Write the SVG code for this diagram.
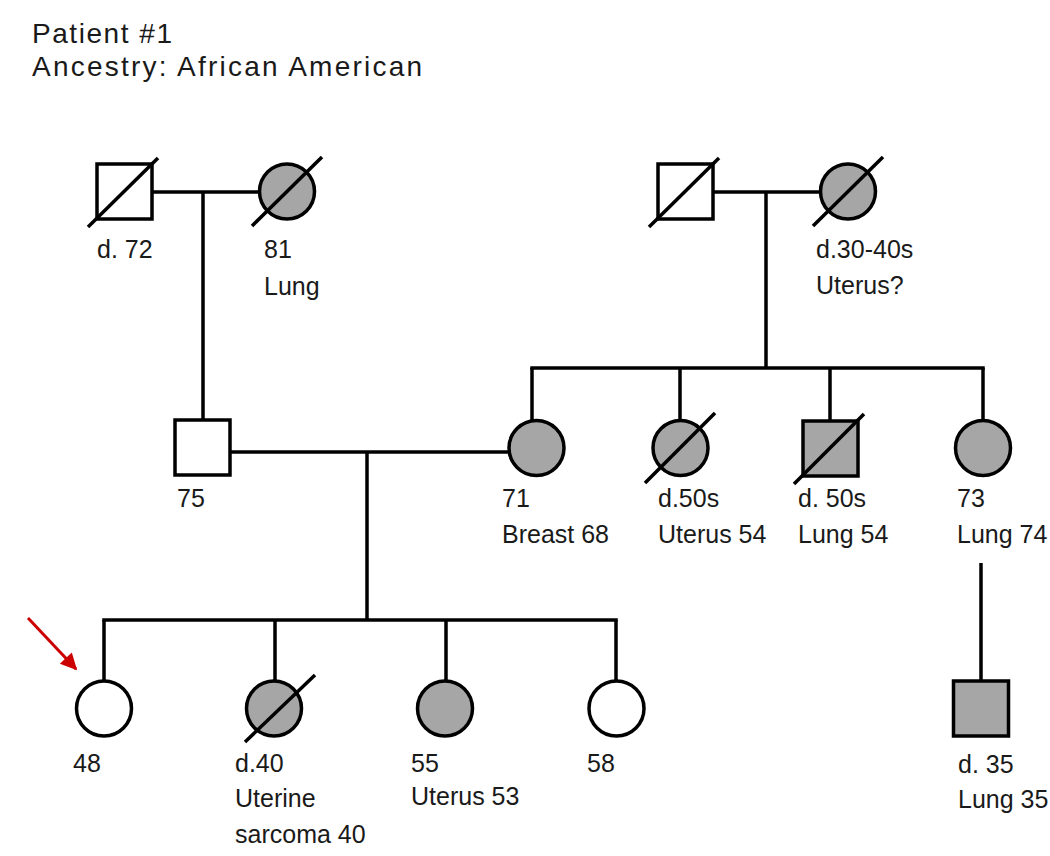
<svg xmlns="http://www.w3.org/2000/svg" width="1050" height="856" viewBox="0 0 1050 856">
<style>
.ln{stroke:#000;stroke-width:3.5;fill:none;stroke-linecap:butt}
.sh{stroke:#000;stroke-width:3.5}
.aff{fill:#a6a6a6}
.un{fill:#fff}
.dx{stroke:#000;stroke-width:3.5}
text{font-family:"Liberation Sans",Arial,sans-serif;font-size:25px;fill:#1a1a1a}
.t{font-size:28px}
</style>
<defs>
<marker id="ah" viewBox="0 0 10 10" refX="9" refY="5" markerWidth="6.5" markerHeight="5.5" orient="auto" markerUnits="strokeWidth">
<path d="M0,0 L10,5 L0,10 z" fill="#cc0000"/>
</marker>
</defs>
<rect width="1050" height="856" fill="#fff"/>
<g id="title">
<text class="t" x="32" y="43" textLength="140">Patient #1</text>
<text class="t" x="32" y="76" textLength="390">Ancestry: African American</text>
</g>
<g id="connectors">
<line class="ln" x1="152" y1="192" x2="259" y2="192"/>
<line class="ln" x1="203" y1="192" x2="203" y2="420"/>
<line class="ln" x1="713" y1="192" x2="821" y2="192"/>
<line class="ln" x1="766" y1="192" x2="766" y2="368"/>
<line class="ln" x1="530.25" y1="368" x2="984.75" y2="368"/>
<line class="ln" x1="532" y1="368" x2="532" y2="421"/>
<line class="ln" x1="680" y1="368" x2="680" y2="421"/>
<line class="ln" x1="830" y1="368" x2="830" y2="421"/>
<line class="ln" x1="983" y1="368" x2="983" y2="421"/>
<line class="ln" x1="230" y1="452" x2="509" y2="452"/>
<line class="ln" x1="367" y1="452" x2="367" y2="620"/>
<line class="ln" x1="102.25" y1="620" x2="617.75" y2="620"/>
<line class="ln" x1="104" y1="620" x2="104" y2="681"/>
<line class="ln" x1="275" y1="620" x2="275" y2="681"/>
<line class="ln" x1="446" y1="620" x2="446" y2="681"/>
<line class="ln" x1="616" y1="620" x2="616" y2="681"/>
<line class="ln" x1="981" y1="563" x2="981" y2="681"/>
</g>
<g id="arrow">
<line x1="28" y1="618" x2="76" y2="669" stroke="#cc0000" stroke-width="3" marker-end="url(#ah)"/>
</g>
<g id="gf-paternal">
<rect class="sh un" x="97" y="164" width="55" height="55"/>
<line class="dx" x1="88" y1="227" x2="158" y2="158"/>
<text x="97" y="258">d. 72</text>
</g>
<g id="gm-paternal">
<circle class="sh aff" cx="287" cy="191.5" r="27.5"/>
<line class="dx" x1="252" y1="226" x2="322" y2="157"/>
<text x="264" y="258">81</text>
<text x="264" y="295">Lung</text>
</g>
<g id="gf-maternal">
<rect class="sh un" x="658" y="164" width="55" height="55"/>
<line class="dx" x1="649" y1="227" x2="719" y2="158"/>
</g>
<g id="gm-maternal">
<circle class="sh aff" cx="848" cy="191.5" r="27.5"/>
<line class="dx" x1="813" y1="226" x2="883" y2="157"/>
<text x="816" y="258">d.30-40s</text>
<text x="816" y="294">Uterus?</text>
</g>
<g id="father">
<rect class="sh un" x="175" y="420" width="55" height="55"/>
<text x="177" y="507">75</text>
</g>
<g id="mother">
<circle class="sh aff" cx="536.5" cy="448" r="27.5"/>
<text x="502" y="507">71</text>
<text x="502" y="543">Breast 68</text>
</g>
<g id="aunt1">
<circle class="sh aff" cx="680.5" cy="448" r="27.5"/>
<line class="dx" x1="645" y1="483" x2="715" y2="413"/>
<text x="658" y="507">d.50s</text>
<text x="658" y="543">Uterus 54</text>
</g>
<g id="uncle">
<rect class="sh aff" x="803" y="421" width="55" height="55"/>
<line class="dx" x1="794" y1="484" x2="864" y2="414"/>
<text x="798" y="507">d. 50s</text>
<text x="798" y="543">Lung 54</text>
</g>
<g id="aunt2">
<circle class="sh aff" cx="983" cy="448" r="27.5"/>
<text x="957" y="507">73</text>
<text x="957" y="543">Lung 74</text>
</g>
<g id="cousin">
<rect class="sh aff" x="953.5" y="681" width="55" height="55"/>
<text x="958" y="773">d. 35</text>
<text x="958" y="808">Lung 35</text>
</g>
<g id="proband">
<circle class="sh un" cx="104" cy="708.5" r="27.5"/>
<text x="73" y="772">48</text>
</g>
<g id="sister1">
<circle class="sh aff" cx="274" cy="708.5" r="27.5"/>
<line class="dx" x1="245" y1="742" x2="315" y2="675"/>
<text x="235" y="772">d.40</text>
<text x="235" y="807">Uterine</text>
<text x="235" y="843">sarcoma 40</text>
</g>
<g id="sister2">
<circle class="sh aff" cx="445" cy="708.5" r="27.5"/>
<text x="411" y="772">55</text>
<text x="411" y="805">Uterus 53</text>
</g>
<g id="sister3">
<circle class="sh un" cx="616.5" cy="708.5" r="27.5"/>
<text x="587" y="772">58</text>
</g>
</svg>
